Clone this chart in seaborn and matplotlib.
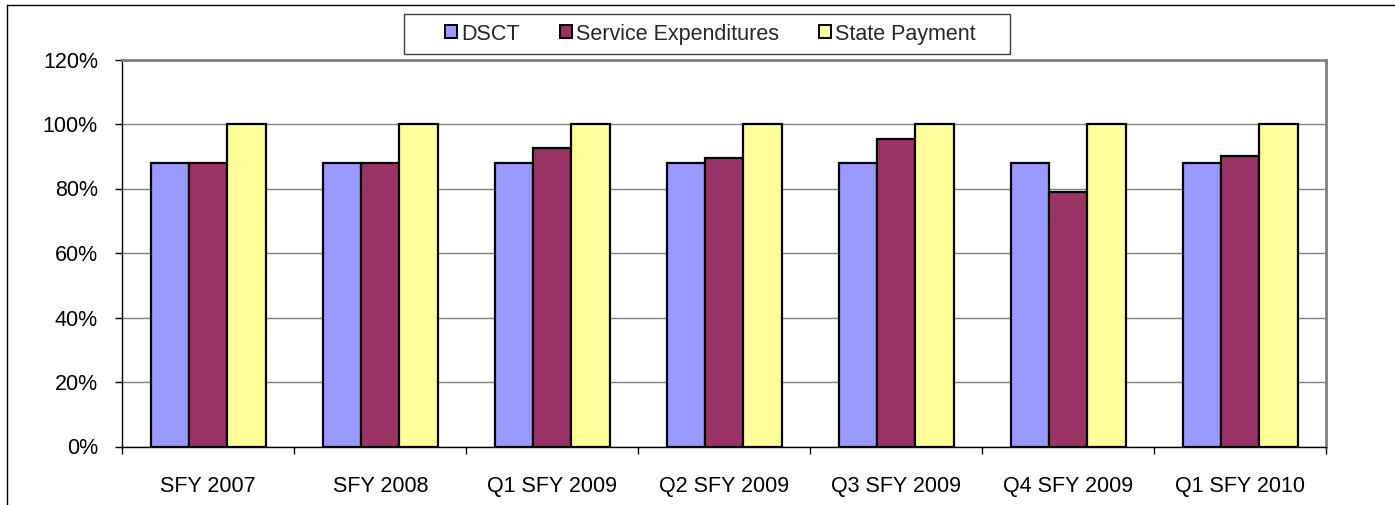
# Grouped bar chart: DSCT vs service expenditures vs state payment

import pandas as pd
import numpy as np
import matplotlib as mpl
import matplotlib.pyplot as plt
from matplotlib.patches import Patch, Rectangle
from matplotlib.lines import Line2D
from matplotlib.ticker import PercentFormatter, FixedLocator
import seaborn as sns

# Chart data (percent)
periods = ['SFY 2007', 'SFY 2008', 'Q1 SFY 2009', 'Q2 SFY 2009',
           'Q3 SFY 2009', 'Q4 SFY 2009', 'Q1 SFY 2010']
dsct = [88, 88, 88, 88, 88, 88, 88]
service_exp = [88, 88, 92.5, 89.4, 95.4, 78.8, 90.2]
state_payment = [100, 100, 100, 100, 100, 100, 100]

series_names = ['DSCT', 'Service Expenditures', 'State Payment']
colours = ['#9999FF', '#993366', '#FFFF99']

chart_df = pd.DataFrame({'period': periods,
                         'DSCT': dsct,
                         'Service Expenditures': service_exp,
                         'State Payment': state_payment})
chart_df = chart_df.melt(id_vars = 'period', var_name = 'series', value_name = 'value')

sns.set_theme(style = 'white')
plt.rcParams['font.family'] = ['Liberation Sans', 'DejaVu Sans']

fig = plt.figure(figsize = (13.95, 5.05), dpi = 100)
ax = fig.add_axes([122.3 / 1395, 1 - 446.5 / 505, 1204 / 1395, 387 / 505])

sns.barplot(ax = ax,
            data = chart_df,
            x = 'period',
            y = 'value',
            hue = 'series',
            hue_order = series_names,
            order = periods,
            palette = colours,
            width = 0.667,
            gap = 0,
            edgecolor = 'black',
            linewidth = 1.6,
            saturation = 1,
            legend = False,
            errorbar = None)

ax.set(xlabel = '', ylabel = '', xlim = (-0.5, 6.5), ylim = (0, 120))
ax.set_yticks(np.arange(0, 121, 20))
ax.yaxis.set_major_formatter(PercentFormatter(xmax = 100, decimals = 0))
ax.yaxis.grid(True, color = '#808080', linewidth = 1)
ax.set_axisbelow(True)

# category labels at centres, tick marks at boundaries
ax.tick_params(axis = 'x', which = 'major', length = 0, pad = 21, labelsize = 15.5, colors = 'black')
ax.xaxis.set_minor_locator(FixedLocator(np.arange(-0.5, 7, 1)))
ax.tick_params(axis = 'x', which = 'minor', bottom = True, length = 5, width = 1, color = 'black')
ax.tick_params(axis = 'y', left = True, length = 5, width = 1, color = 'black', pad = 12.5,
               labelsize = 15.5, labelcolor = 'black')

for side in ['top', 'right']:
    ax.spines[side].set_color('#808080')
    ax.spines[side].set_linewidth(2)
for side in ['left', 'bottom']:
    ax.spines[side].set_color('black')
    ax.spines[side].set_linewidth(1)

# legend with its own frame
handles = [Patch(facecolor = c, edgecolor = 'black', linewidth = 1.4, label = n)
           for c, n in zip(colours, series_names)]
fig.legend(handles = handles,
           loc = 'center',
           bbox_to_anchor = (710.5 / 1395, 1 - 34 / 505),
           ncol = 3,
           frameon = False,
           fontsize = 15.5,
           handlelength = 0.56,
           handleheight = 0.56,
           handletextpad = 0.2,
           columnspacing = 1.85,
           borderpad = 0)
fig.add_artist(Rectangle((404 / 1395, 1 - 54 / 505), 606 / 1395, 40 / 505,
                         transform = fig.transFigure, fill = False,
                         edgecolor = '#404040', linewidth = 1))

# chart area border (top and left visible)
fig.add_artist(Line2D([6.5 / 1395, 1], [1 - 5 / 505, 1 - 5 / 505],
                      transform = fig.transFigure, color = 'black', linewidth = 1))
fig.add_artist(Line2D([6.5 / 1395, 6.5 / 1395], [0, 1 - 5 / 505],
                      transform = fig.transFigure, color = 'black', linewidth = 1))

fig.savefig('out.png', dpi = 100)
plt.close()
